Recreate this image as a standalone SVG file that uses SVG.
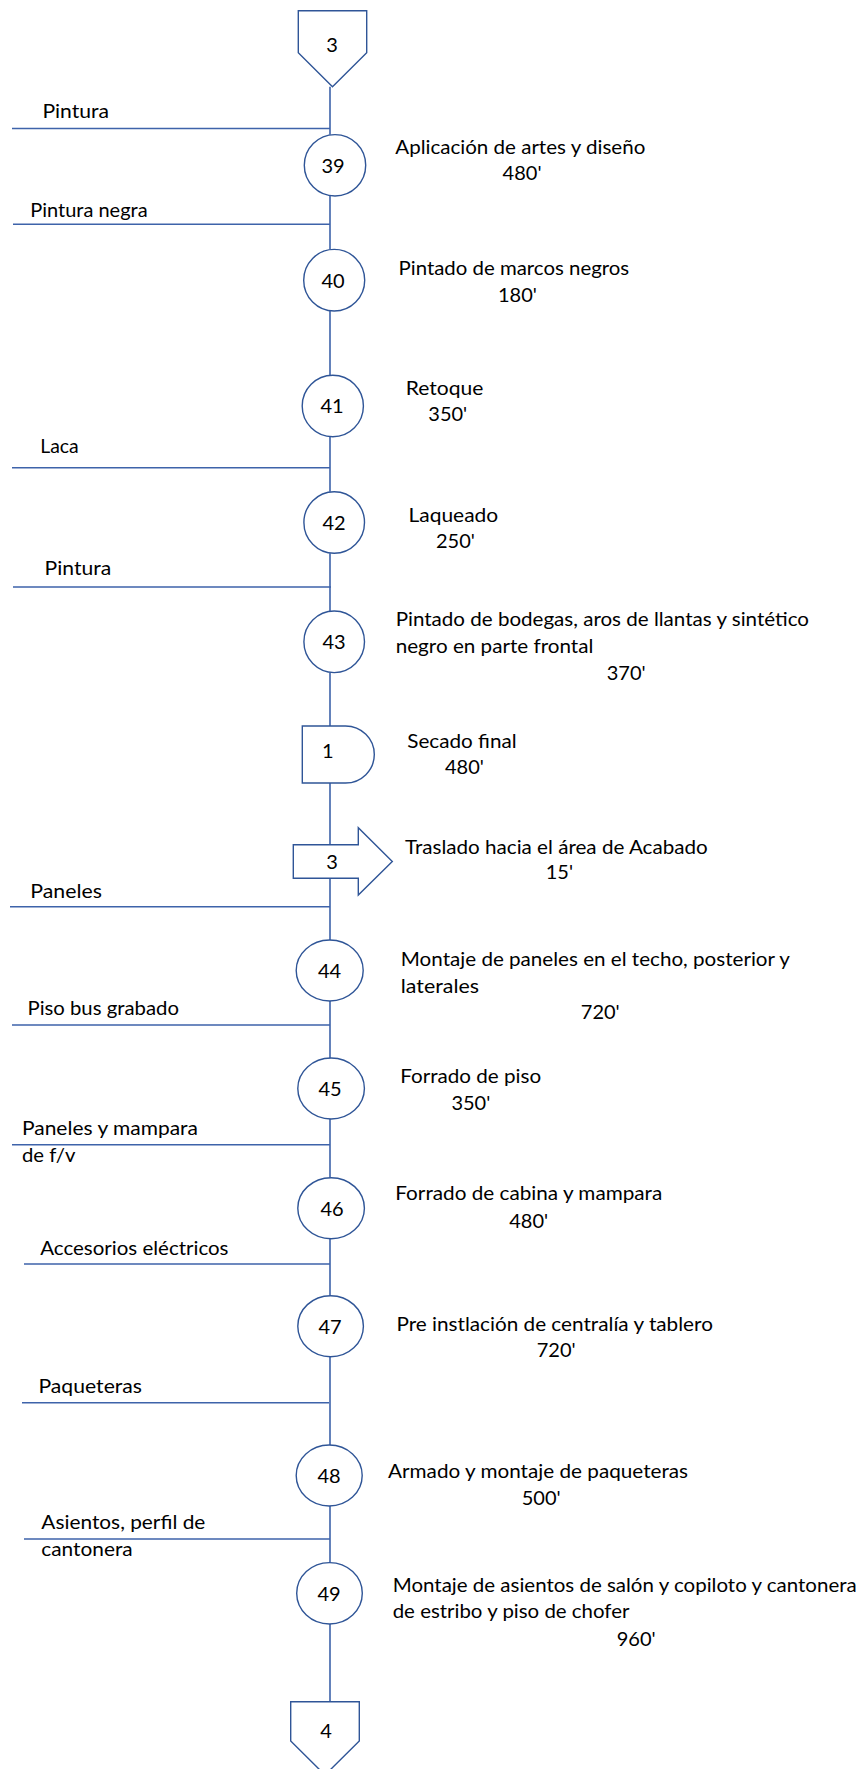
<svg xmlns="http://www.w3.org/2000/svg" width="864" height="1769" viewBox="0 0 864 1769">
<style>
.t{font-family:Lato,"Liberation Sans",sans-serif;font-size:20px;fill:#000}
.c{text-anchor:middle}
.s{fill:#fff;stroke:#2F5597;stroke-width:1.4}
.ln{stroke:#3E63AA;stroke-width:1.6;fill:none}
</style>
<rect width="864" height="1769" fill="#fff"/>
<g id="connectors">
<path class="ln" d="M330,86.7V134.7 M330,196V249.3 M330,311V375.3 M330,436.7V491.7 M330,553.3V611 M330,672.7V726 M330,783V844.7 M330,878.3V940 M330,1001V1058 M330,1119V1177.7 M330,1238.7V1295.7 M330,1356.7V1445 M330,1506V1562.7 M330,1624V1701.7"/>
<path class="ln" d="M12,128.5H330 M13,224.3H330 M12,467.7H330 M13,587H331 M10,906.7H330 M12,1025H330 M12,1144.7H330 M24,1264H330 M22,1402.7H329 M24,1539H330"/>
<text class="t" x="42.4" y="117.5" textLength="66.7" lengthAdjust="spacingAndGlyphs">Pintura</text>
<text class="t" x="30.3" y="217" textLength="117.3" lengthAdjust="spacingAndGlyphs">Pintura negra</text>
<text class="t" x="40.2" y="452.7" textLength="38.5" lengthAdjust="spacingAndGlyphs">Laca</text>
<text class="t" x="44.6" y="575" textLength="66.6" lengthAdjust="spacingAndGlyphs">Pintura</text>
<text class="t" x="30.3" y="897.7" textLength="71.6" lengthAdjust="spacingAndGlyphs">Paneles</text>
<text class="t" x="27.5" y="1015" textLength="151.4" lengthAdjust="spacingAndGlyphs">Piso bus grabado</text>
<text class="t" x="22" y="1135" textLength="176" lengthAdjust="spacingAndGlyphs">Paneles y mampara</text>
<text class="t" x="22" y="1161.7" textLength="53.4" lengthAdjust="spacingAndGlyphs">de f/v</text>
<text class="t" x="40.2" y="1255" textLength="188.3" lengthAdjust="spacingAndGlyphs">Accesorios eléctricos</text>
<text class="t" x="38.5" y="1392.7" textLength="103.5" lengthAdjust="spacingAndGlyphs">Paqueteras</text>
<text class="t" x="41.3" y="1529" textLength="164" lengthAdjust="spacingAndGlyphs">Asientos, perfil de</text>
<text class="t" x="41.3" y="1556" textLength="91.4" lengthAdjust="spacingAndGlyphs">cantonera</text>
</g>
<g id="offpage-3">
<polygon class="s" points="298.3,10.7 366.7,10.7 366.7,52.7 332.5,86.7 298.3,52.7"/>
<text class="t c" x="332" y="51.5">3</text>
</g>
<g id="op39">
<ellipse class="s" cx="335" cy="165.3" rx="30.7" ry="30.7"/>
<text class="t c" x="333" y="172.5">39</text>
<text class="t" x="395.3" y="154" textLength="250" lengthAdjust="spacingAndGlyphs">Aplicación de artes y diseño</text>
<text class="t" x="502.6" y="180">480'</text>
</g>
<g id="op40">
<ellipse class="s" cx="334.2" cy="280.2" rx="30.5" ry="30.8"/>
<text class="t c" x="333" y="287.5">40</text>
<text class="t" x="398.6" y="275" textLength="230.6" lengthAdjust="spacingAndGlyphs">Pintado de marcos negros</text>
<text class="t" x="498" y="302">180'</text>
</g>
<g id="op41">
<ellipse class="s" cx="332.8" cy="406" rx="30.6" ry="30.7"/>
<text class="t c" x="332" y="413.3">41</text>
<text class="t" x="405.7" y="395" textLength="77.6" lengthAdjust="spacingAndGlyphs">Retoque</text>
<text class="t" x="428.3" y="420.7">350'</text>
</g>
<g id="op42">
<ellipse class="s" cx="334.2" cy="522.5" rx="30.3" ry="30.8"/>
<text class="t c" x="334" y="529.8">42</text>
<text class="t" x="408.5" y="521.7" textLength="89.7" lengthAdjust="spacingAndGlyphs">Laqueado</text>
<text class="t" x="436" y="548.3">250'</text>
</g>
<g id="op43">
<ellipse class="s" cx="334.2" cy="641.8" rx="30.3" ry="30.8"/>
<text class="t c" x="334" y="649">43</text>
<text class="t" x="395.7" y="626" textLength="413.3" lengthAdjust="spacingAndGlyphs">Pintado de bodegas, aros de llantas y sintético</text>
<text class="t" x="395.7" y="652.7" textLength="197.7" lengthAdjust="spacingAndGlyphs">negro en parte frontal</text>
<text class="t" x="606.7" y="680">370'</text>
</g>
<g id="storage-1">
<path class="s" d="M302.3,726H345.5A28.8,28.5 0 0 1 345.5,783H302.3Z"/>
<text class="t c" x="327.7" y="758">1</text>
<text class="t" x="407.3" y="747.7" textLength="109.3" lengthAdjust="spacingAndGlyphs">Secado final</text>
<text class="t" x="445" y="774.3">480'</text>
</g>
<g id="transport-3">
<polygon class="s" points="293.3,844.7 358.3,844.7 358.3,827.7 392.3,861.5 358.3,895 358.3,878.3 293.3,878.3"/>
<text class="t c" x="332" y="868.5">3</text>
<text class="t" x="405" y="854" textLength="302.7" lengthAdjust="spacingAndGlyphs">Traslado hacia el área de Acabado</text>
<text class="t" x="545.7" y="879.3">15'</text>
</g>
<g id="op44">
<ellipse class="s" cx="329.7" cy="970.5" rx="33.5" ry="30.5"/>
<text class="t c" x="329.5" y="977.8">44</text>
<text class="t" x="400.8" y="966" textLength="389.2" lengthAdjust="spacingAndGlyphs">Montaje de paneles en el techo, posterior y</text>
<text class="t" x="400.8" y="992.7" textLength="78.2" lengthAdjust="spacingAndGlyphs">laterales</text>
<text class="t" x="580.8" y="1018.7">720'</text>
</g>
<g id="op45">
<ellipse class="s" cx="331.1" cy="1088.5" rx="33.3" ry="30.5"/>
<text class="t c" x="330" y="1095.8">45</text>
<text class="t" x="400.2" y="1083.3" textLength="141" lengthAdjust="spacingAndGlyphs">Forrado de piso</text>
<text class="t" x="451.4" y="1110">350'</text>
</g>
<g id="op46">
<ellipse class="s" cx="331.1" cy="1208.2" rx="33.3" ry="30.5"/>
<text class="t c" x="332" y="1215.5">46</text>
<text class="t" x="395.3" y="1200" textLength="267" lengthAdjust="spacingAndGlyphs">Forrado de cabina y mampara</text>
<text class="t" x="509.2" y="1228.3">480'</text>
</g>
<g id="op47">
<ellipse class="s" cx="330.6" cy="1326.2" rx="32.8" ry="30.5"/>
<text class="t c" x="330" y="1333.5">47</text>
<text class="t" x="396.4" y="1330.7" textLength="316.5" lengthAdjust="spacingAndGlyphs">Pre instlación de centralía y tablero</text>
<text class="t" x="536.7" y="1357.3">720'</text>
</g>
<g id="op48">
<ellipse class="s" cx="329.2" cy="1475.5" rx="33" ry="30.5"/>
<text class="t c" x="329" y="1482.8">48</text>
<text class="t" x="388.1" y="1477.7" textLength="300" lengthAdjust="spacingAndGlyphs">Armado y montaje de paqueteras</text>
<text class="t" x="521.7" y="1505">500'</text>
</g>
<g id="op49">
<ellipse class="s" cx="329.5" cy="1593.3" rx="32.8" ry="30.7"/>
<text class="t c" x="329" y="1600.5">49</text>
<text class="t" x="392.7" y="1591.7" textLength="464" lengthAdjust="spacingAndGlyphs">Montaje de asientos de salón y copiloto y cantonera</text>
<text class="t" x="392.7" y="1618.3" textLength="236.7" lengthAdjust="spacingAndGlyphs">de estribo y piso de chofer</text>
<text class="t" x="616.7" y="1645.7">960'</text>
</g>
<g id="offpage-4">
<polygon class="s" points="290.7,1701.7 359.3,1701.7 359.3,1741 325,1775 290.7,1741"/>
<text class="t c" x="326" y="1738">4</text>
</g>
</svg>
